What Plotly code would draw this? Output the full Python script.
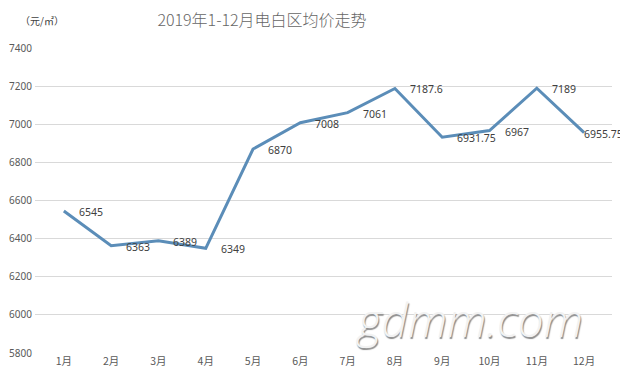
import plotly.graph_objects as go

months = ["1月", "2月", "3月", "4月", "5月", "6月", "7月", "8月", "9月", "10月", "11月", "12月"]
prices = [6545, 6363, 6389, 6349, 6870, 7008, 7061, 7187.6, 6931.75, 6967, 7189, 6955.75]
labels = ["6545", "6363", "6389", "6349", "6870", "7008", "7061", "7187.6", "6931.75", "6967", "7189", "6955.75"]
y_ticks = [5800, 6000, 6200, 6400, 6600, 6800, 7000, 7200, 7400]

W, H = 620, 373  # page body has 8px offset

fig = go.Figure()
fig.add_trace(go.Scatter(
    x=months, y=prices, mode="lines",
    line=dict(color="#5B8DB8", width=3),
    cliponaxis=False, hoverinfo="skip",
))

for i, (m, v, t) in enumerate(zip(months, prices, labels)):
    last = i == len(months) - 1
    fig.add_annotation(x=m, y=v, text=t, showarrow=False, xanchor="left", yanchor="middle",
                       xshift=(-2 if last else 13), yshift=-1,
                       font=dict(family="Noto Sans", size=10.5, color="#404040"))

fig.update_layout(
    width=W, height=H,
    margin=dict(l=27, r=16, t=40, b=28, autoexpand=False),
    paper_bgcolor="white", plot_bgcolor="white",
    showlegend=False,
    title=dict(text="2019年1-12月电白区均价走势", xref="container", x=254 / W, xanchor="center",
               yref="container", y=1 - 12 / H, yanchor="middle", automargin=False,
               font=dict(family="Noto Sans CJK SC", size=16, color="#666666", weight=300)),
    xaxis=dict(type="category", range=[-0.61, 11.59], showgrid=False, showline=False, ticks="",
               automargin=False,
               tickfont=dict(family="Noto Sans CJK SC", size=10.5, color="#595959")),
    yaxis=dict(range=[5800, 7400], tickvals=y_ticks, showgrid=True, gridcolor="#D9D9D9", gridwidth=1,
               zeroline=False, showline=False, ticks="", ticklabelstandoff=2, automargin=False,
               tickfont=dict(family="Noto Sans", size=10, color="#595959")),
)

fig.add_annotation(text="（元/㎡）", xref="paper", yref="paper", x=-17 / 577, y=1 + 28 / 305,
                   xanchor="left", yanchor="middle", showarrow=False,
                   font=dict(family="Noto Sans CJK SC", size=10, color="#404040"))
fig.add_annotation(text="gdmm.com", xref="paper", yref="paper", x=(354 - 35) / 577, y=(353 - 319) / 305,
                   xanchor="left", yanchor="middle", showarrow=False,
                   font=dict(family="Open Sans", size=46, color="#F2F2F2", style="italic", weight=300,
                             shadow="1px 2px 1px #8c8c8c"))

fig.write_html("out.html")
